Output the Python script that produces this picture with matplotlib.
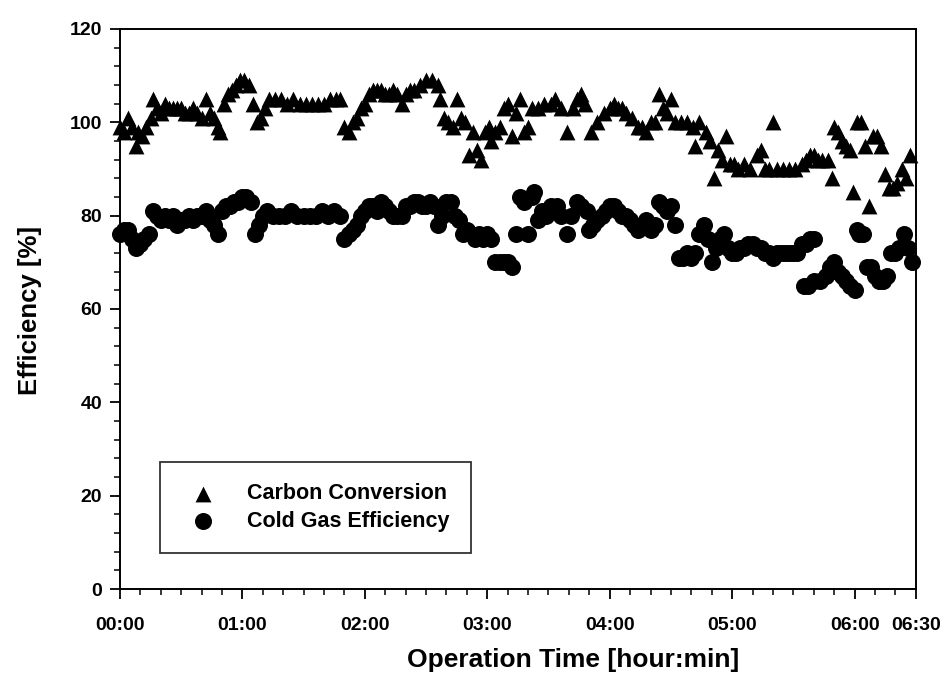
import matplotlib.pyplot as plt
from matplotlib.ticker import MultipleLocator, FixedLocator, FuncFormatter

plt.rcParams['font.family'] = ['Liberation Sans', 'DejaVu Sans']
plt.rcParams['font.weight'] = 'bold'

# Carbon conversion (minutes from start, %)
cc_time = [0, 2, 4, 6, 8, 9, 11, 13, 15, 16, 18, 20, 22, 24, 26, 28, 30, 32, 34, 36,
           38, 40, 42, 44, 46, 48, 49, 51, 53, 55, 57, 59, 61, 63, 65, 67, 69, 71, 73, 76,
           79, 82, 85, 88, 91, 94, 97, 100, 103, 106, 108, 110, 112, 114, 116, 118, 120, 122, 124, 126,
           128, 130, 132, 134, 136, 138, 140, 142, 144, 147, 150, 153, 156, 157, 159, 161, 163, 165, 167, 169,
           171, 173, 175, 177, 179, 181, 182, 184, 186, 188, 190, 192, 194, 196, 198, 200, 202, 205, 208, 211,
           213, 216, 219, 222, 224, 226, 228, 231, 234, 237, 240, 242, 244, 246, 248, 251, 254, 256, 258, 260,
           262, 264, 266, 268, 270, 272, 275, 278, 281, 282, 284, 287, 289, 291, 293, 295, 297, 299, 301, 303,
           306, 309, 312, 314, 316, 318, 320, 322, 325, 328, 331, 334, 336, 338, 340, 342, 344, 347, 349, 350,
           352, 354, 356, 358, 359, 361, 363, 365, 367, 369, 371, 373, 375, 377, 379, 381, 383, 385, 387]
cc_value = [99, 98, 101, 99, 95, 98, 97, 99, 101, 105, 103, 102, 104, 103, 103, 103, 103, 102, 102, 103,
            102, 101, 105, 102, 101, 99, 98, 104, 106, 107, 108, 109, 109, 108, 104, 100, 101, 103, 105, 105,
            105, 104, 105, 104, 104, 104, 104, 104, 105, 105, 105, 99, 98, 100, 101, 103, 104, 106, 107, 107,
            107, 106, 106, 107, 106, 104, 106, 107, 107, 108, 109, 109, 108, 105, 101, 100, 99, 105, 101, 100,
            93, 98, 94, 92, 98, 99, 96, 98, 99, 103, 104, 97, 102, 105, 98, 99, 103, 103, 104, 104,
            105, 103, 98, 103, 105, 106, 104, 98, 100, 102, 103, 104, 103, 103, 102, 101, 99, 99, 98, 100,
            100, 106, 103, 102, 105, 100, 100, 100, 99, 95, 100, 98, 96, 88, 94, 92, 97, 91, 91, 90,
            91, 90, 93, 94, 90, 90, 100, 90, 90, 90, 90, 91, 92, 93, 93, 92, 92, 92, 88, 99,
            98, 96, 95, 94, 85, 100, 100, 95, 82, 97, 97, 95, 89, 86, 86, 87, 90, 88, 93]

# Cold gas efficiency (minutes from start, %)
cg_time = [0, 2, 4, 6, 8, 10, 12, 14, 16, 18, 20, 22, 24, 26, 28, 30, 32, 34, 36, 38,
           40, 42, 44, 46, 48, 50, 52, 54, 56, 58, 60, 62, 64, 66, 68, 70, 72, 75, 78, 81,
           84, 87, 90, 93, 96, 99, 102, 105, 108, 110, 112, 114, 116, 118, 120, 122, 124, 126, 128, 130,
           132, 134, 136, 138, 140, 142, 144, 146, 148, 150, 152, 154, 156, 158, 160, 162, 164, 166, 168, 170,
           172, 174, 176, 178, 180, 182, 184, 186, 188, 190, 192, 194, 196, 198, 200, 202, 203, 205, 207, 209,
           211, 214, 216, 219, 221, 224, 226, 229, 230, 232, 234, 236, 238, 240, 242, 244, 246, 248, 250, 252,
           254, 256, 258, 260, 262, 264, 266, 268, 270, 272, 274, 276, 278, 280, 282, 284, 286, 288, 290, 292,
           294, 296, 298, 300, 302, 304, 306, 308, 310, 312, 314, 316, 318, 320, 322, 324, 326, 328, 330, 332,
           334, 336, 338, 340, 335, 337, 340, 343, 346, 348, 350, 352, 354, 356, 358, 360, 361, 362, 364, 366,
           368, 370, 372, 374, 376, 378, 380, 382, 384, 386, 388]
cg_value = [76, 77, 77, 75, 73, 74, 75, 76, 81, 80, 79, 80, 79, 80, 78, 79, 79, 80, 79, 80,
            80, 81, 79, 78, 76, 81, 82, 82, 83, 83, 84, 84, 83, 76, 78, 80, 81, 80, 80, 80,
            81, 80, 80, 80, 80, 81, 80, 81, 80, 75, 76, 77, 78, 80, 81, 82, 82, 81, 83, 82,
            81, 80, 80, 80, 82, 82, 83, 83, 82, 82, 83, 82, 78, 80, 83, 83, 80, 79, 76, 77,
            76, 75, 76, 75, 76, 75, 70, 70, 70, 70, 69, 76, 84, 83, 76, 84, 85, 79, 81, 80,
            82, 82, 80, 76, 80, 83, 82, 81, 77, 78, 79, 80, 81, 82, 82, 81, 80, 80, 79, 78,
            77, 78, 79, 77, 78, 83, 82, 81, 82, 78, 71, 71, 72, 71, 72, 76, 78, 75, 70, 73,
            75, 76, 73, 72, 72, 73, 73, 74, 74, 73, 73, 72, 72, 71, 72, 72, 72, 72, 72, 72,
            74, 74, 75, 75, 65, 65, 66, 66, 67, 69, 70, 68, 67, 66, 65, 64, 77, 76, 76, 69,
            69, 67, 66, 66, 67, 72, 72, 73, 76, 73, 70]

tick_minutes = [0, 60, 120, 180, 240, 300, 360, 390]


def hhmm(m, pos=None):
    return '%02d:%02d' % (int(m) // 60, int(m) % 60)


fig = plt.figure(figsize=(9.49, 6.83), dpi=100)
ax = fig.add_axes([0.1264, 0.1376, 0.8386, 0.82])

ax.scatter(cc_time, cc_value, marker='^', s=130, color='black', linewidths=0,
           label='Carbon Conversion', clip_on=False, zorder=3)
ax.scatter(cg_time, cg_value, marker='o', s=150, color='black', linewidths=0,
           label='Cold Gas Efficiency', clip_on=False, zorder=3)

ax.set_xlim(0, 390)
ax.set_ylim(0, 120)
ax.xaxis.set_major_locator(FixedLocator(tick_minutes))
ax.xaxis.set_major_formatter(FuncFormatter(hhmm))
ax.xaxis.set_minor_locator(MultipleLocator(10))
ax.yaxis.set_major_locator(MultipleLocator(20))
ax.yaxis.set_minor_locator(MultipleLocator(4))

ax.tick_params(axis='both', which='major', direction='out', length=7, width=1.3,
               labelsize=14)
ax.tick_params(axis='x', which='major', pad=13)
ax.tick_params(axis='y', which='major', pad=6)
ax.tick_params(axis='both', which='minor', direction='out', length=4, width=1.1)
for sp in ax.spines.values():
    sp.set_linewidth(1.4)

ax.set_xlabel('Operation Time [hour:min]', fontsize=19, fontweight='bold', va='center')
ax.xaxis.set_label_coords(0.569, -0.127)
ax.set_ylabel('Efficiency [%]', fontsize=18.5, fontweight='bold', va='center')
ax.yaxis.set_label_coords(-0.113, 0.498)

leg = ax.legend(loc='lower left', bbox_to_anchor=(0.05, 0.064), borderaxespad=0,
                frameon=True, fancybox=False, edgecolor='black', fontsize=15.5,
                scatterpoints=1, borderpad=1.0, handletextpad=1.05, labelspacing=0.3,
                handlelength=2.0)
leg.get_frame().set_linewidth(1.3)

fig.savefig('out.png', dpi=100)
